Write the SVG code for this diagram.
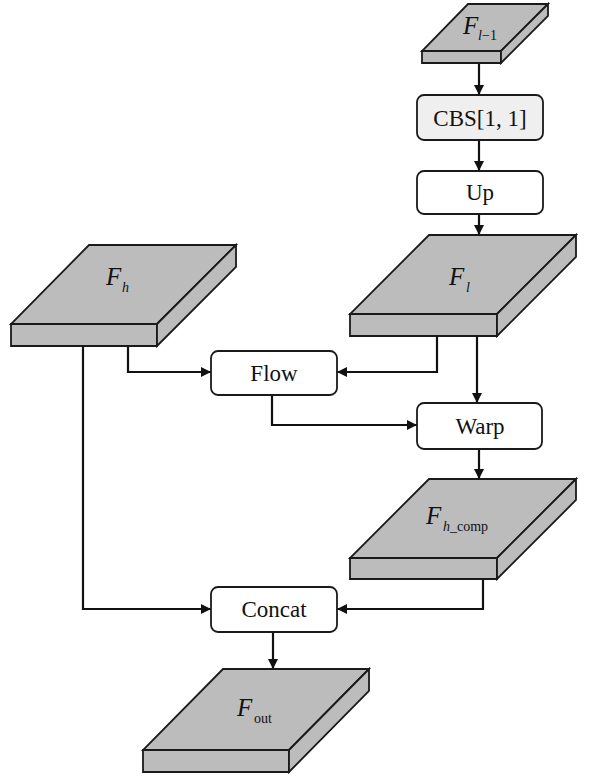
<svg xmlns="http://www.w3.org/2000/svg" width="591" height="782" viewBox="0 0 591 782">
<defs>
<style>
.slab{fill:#bcbcbc;stroke:#1a1a1a;stroke-width:1.8;stroke-linejoin:miter}
.box{fill:#ffffff;stroke:#1a1a1a;stroke-width:1.8}
.gbox{fill:#efefef;stroke:#1a1a1a;stroke-width:1.8}
.lbl{font-family:"Liberation Serif",serif;font-size:23px;fill:#111;text-anchor:middle}
.var{font-family:"Liberation Serif",serif;font-size:25px;font-style:italic;fill:#111}
.sub{font-family:"Liberation Serif",serif;font-size:14px;fill:#111}
.subi{font-family:"Liberation Serif",serif;font-size:14px;font-style:italic;fill:#111}
.con{fill:none;stroke:#111;stroke-width:2.2}
</style>
<marker id="ah" viewBox="0 0 10 10" refX="10" refY="5" markerWidth="11" markerHeight="10" markerUnits="userSpaceOnUse" orient="auto">
<path d="M0,0 L10,5 L0,10 z" fill="#111"/>
</marker>
</defs>

<g id="connectors">
<path class="con" d="M479,63 V95" marker-end="url(#ah)"/>
<path class="con" d="M479,140 V171" marker-end="url(#ah)"/>
<path class="con" d="M479,214 V235" marker-end="url(#ah)"/>
<path class="con" d="M128,346 V372 H211" marker-end="url(#ah)"/>
<path class="con" d="M437,336 V372 H337" marker-end="url(#ah)"/>
<path class="con" d="M477,336 V403" marker-end="url(#ah)"/>
<path class="con" d="M272,395 V425 H417" marker-end="url(#ah)"/>
<path class="con" d="M479,449 V479" marker-end="url(#ah)"/>
<path class="con" d="M83,346 V609 H211" marker-end="url(#ah)"/>
<path class="con" d="M483,579 V609 H337" marker-end="url(#ah)"/>
<path class="con" d="M273,632 V669" marker-end="url(#ah)"/>
</g>

<g id="F_l-1">
<path class="slab" d="M468,4 H548 L501,51 H422 Z"/>
<path class="slab" d="M422,51 H501 V63 H422 Z"/>
<path class="slab" d="M501,51 L548,4 V16 L501,63 Z"/>
<text x="463" y="34" class="var">F</text>
<text x="478" y="40" class="subi">l</text><text x="482" y="40" class="sub">−1</text>
</g>

<g id="CBS">
<rect class="gbox" x="417" y="95" width="126" height="45" rx="7"/>
<text x="480" y="126" class="lbl">CBS[1, 1]</text>
</g>

<g id="Up">
<rect class="box" x="417" y="171" width="126" height="43" rx="7"/>
<text x="480" y="200" class="lbl">Up</text>
</g>

<g id="F_h">
<path class="slab" d="M89,245 H236 L157,324 H11 Z"/>
<path class="slab" d="M11,324 H157 V346 H11 Z"/>
<path class="slab" d="M157,324 L236,245 V267 L157,346 Z"/>
<text x="106" y="285" class="var">F</text>
<text x="122" y="292" class="subi">h</text>
</g>

<g id="F_l">
<path class="slab" d="M429,235 H576 L497,314 H350 Z"/>
<path class="slab" d="M350,314 H497 V336 H350 Z"/>
<path class="slab" d="M497,314 L576,235 V257 L497,336 Z"/>
<text x="449" y="285" class="var">F</text>
<text x="466" y="292" class="subi">l</text>
</g>

<g id="Flow">
<rect class="box" x="211" y="351" width="126" height="44" rx="7"/>
<text x="274" y="381" class="lbl">Flow</text>
</g>

<g id="Warp">
<rect class="box" x="417" y="403" width="125" height="46" rx="7"/>
<text x="480" y="434" class="lbl">Warp</text>
</g>

<g id="F_h_comp">
<path class="slab" d="M429,479 H576 L497,558 H350 Z"/>
<path class="slab" d="M350,558 H497 V579 H350 Z"/>
<path class="slab" d="M497,558 L576,479 V500 L497,579 Z"/>
<text x="426" y="524" class="var">F</text>
<text x="443" y="531" class="subi">h</text><text x="450" y="531" class="sub">_comp</text>
</g>

<g id="Concat">
<rect class="box" x="211" y="587" width="126" height="45" rx="7"/>
<text x="274" y="617" class="lbl">Concat</text>
</g>

<g id="F_out">
<path class="slab" d="M223,669 H369 L289,750 H143 Z"/>
<path class="slab" d="M143,750 H289 V772 H143 Z"/>
<path class="slab" d="M289,750 L369,669 V691 L289,772 Z"/>
<text x="237" y="716" class="var">F</text>
<text x="254" y="723" class="sub">out</text>
</g>
</svg>
